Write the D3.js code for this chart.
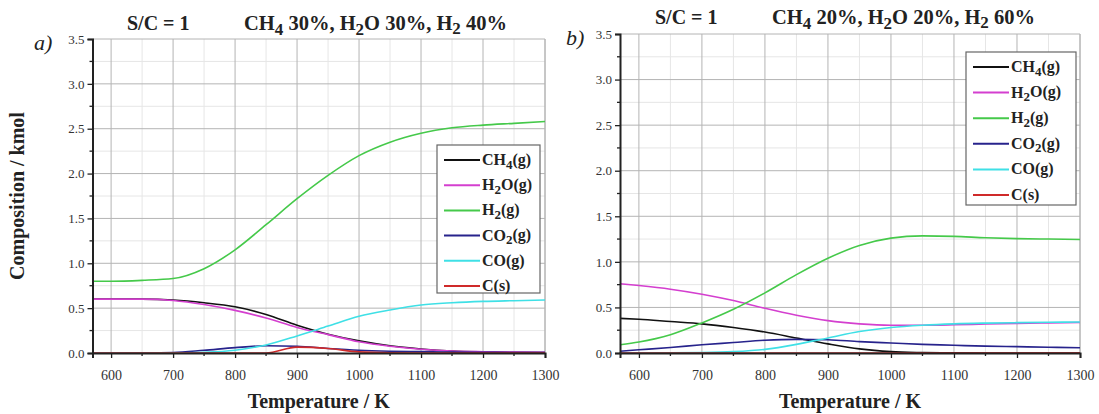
<!DOCTYPE html>
<html>
<head>
<meta charset="utf-8">
<script src="https://cdn.jsdelivr.net/npm/d3@7"></script>
<style>
  body { margin: 0; background: #fff; }
  svg text { font-family: "Liberation Serif", "Times New Roman", serif; }
</style>
</head>
<body>
<svg id="chart" width="1099" height="414"></svg>
<script>
// Temperatures (K) at which the curves were read
const temps = [570, 600, 650, 700, 750, 800, 850, 900, 950, 1000, 1050, 1100, 1150, 1200, 1250, 1300];

const speciesLabels = ["CH_4(g)", "H_2O(g)", "H_2(g)", "CO_2(g)", "CO(g)", "C(s)"];
const speciesColors = ["#111111", "#d43fcf", "#45c94a", "#27238c", "#3fe0e6", "#cf2a2a"];

// a) CH4 30%, H2O 30%, H2 40%
const ch4A = [0.60, 0.60, 0.60, 0.59, 0.56, 0.515, 0.43, 0.31, 0.21, 0.135, 0.08, 0.045, 0.022, 0.012, 0.007, 0.004];
const h2oA = [0.60, 0.60, 0.60, 0.585, 0.54, 0.475, 0.39, 0.285, 0.205, 0.125, 0.075, 0.042, 0.022, 0.014, 0.01, 0.007];
const h2A  = [0.80, 0.80, 0.81, 0.83, 0.94, 1.15, 1.43, 1.72, 1.98, 2.20, 2.35, 2.45, 2.51, 2.54, 2.56, 2.58];
const co2A = [0, 0, 0.001, 0.005, 0.03, 0.06, 0.08, 0.075, 0.05, 0.03, 0.02, 0.015, 0.01, 0.008, 0.006, 0.005];
const coA  = [0, 0, 0, 0.002, 0.008, 0.03, 0.09, 0.19, 0.30, 0.41, 0.48, 0.535, 0.56, 0.575, 0.583, 0.59];
const cA   = [0, 0, 0, 0, 0, 0, 0, 0.065, 0.05, 0.012, 0.002, 0, 0, 0, 0, 0];

// b) CH4 20%, H2O 20%, H2 60%
const ch4B = [0.38, 0.37, 0.345, 0.32, 0.28, 0.23, 0.165, 0.10, 0.045, 0.015, 0.005, 0.001, 0, 0, 0, 0];
const h2oB = [0.76, 0.74, 0.70, 0.645, 0.575, 0.49, 0.415, 0.355, 0.32, 0.305, 0.305, 0.31, 0.318, 0.325, 0.33, 0.335];
const h2B  = [0.09, 0.12, 0.20, 0.33, 0.48, 0.66, 0.86, 1.04, 1.18, 1.26, 1.285, 1.28, 1.265, 1.255, 1.25, 1.245];
const co2B = [0.02, 0.035, 0.06, 0.09, 0.115, 0.14, 0.15, 0.145, 0.125, 0.11, 0.095, 0.085, 0.075, 0.07, 0.063, 0.058];
const coB  = [0, 0, 0.002, 0.005, 0.015, 0.04, 0.095, 0.165, 0.235, 0.28, 0.305, 0.32, 0.328, 0.333, 0.337, 0.34];
const cB   = [0, 0, 0, 0, 0, 0, 0, 0, 0, 0, 0, 0, 0, 0, 0, 0];

const xTicks = [600, 700, 800, 900, 1000, 1100, 1200, 1300];
const xMinor = [650, 750, 850, 950, 1050, 1150, 1250];
const yTicks = [0, 0.5, 1.0, 1.5, 2.0, 2.5, 3.0, 3.5];
const yMinor = [0.25, 0.75, 1.25, 1.75, 2.25, 2.75, 3.25];

const svg = d3.select("#chart");

// write "CH_4(g)" style strings with lowered subscripts
function richText(sel, str, subSize) {
    const parts = str.split(/(_\d)/).filter(s => s.length);
    let lowered = false;
    parts.forEach(p => {
        if (p[0] === "_") {
            sel.append("tspan").attr("font-size", subSize).attr("dy", "0.28em").text(p[1]);
            lowered = true;
        } else {
            const t = sel.append("tspan").text(p);
            if (lowered) t.attr("dy", "-0.24em");
            lowered = false;
        }
    });
}

function drawPanel(p) {
    const x = d3.scaleLinear().domain([570, 1300]).range([p.left, p.right]);
    const y = d3.scaleLinear().domain([0, 3.5]).range([p.bottom, p.top]);
    const g = svg.append("g");

    // grid
    g.append("g").selectAll("line").data(xMinor).join("line")
        .attr("x1", d => x(d)).attr("x2", d => x(d)).attr("y1", p.top).attr("y2", p.bottom)
        .attr("stroke", "#e6e6e6");
    g.append("g").selectAll("line").data(yMinor).join("line")
        .attr("y1", d => y(d)).attr("y2", d => y(d)).attr("x1", p.left).attr("x2", p.right)
        .attr("stroke", "#e6e6e6");
    g.append("g").selectAll("line").data(xTicks).join("line")
        .attr("x1", d => x(d)).attr("x2", d => x(d)).attr("y1", p.top).attr("y2", p.bottom)
        .attr("stroke", "#b4b4b4");
    g.append("g").selectAll("line").data(yTicks.slice(1)).join("line")
        .attr("y1", d => y(d)).attr("y2", d => y(d)).attr("x1", p.left).attr("x2", p.right)
        .attr("stroke", "#b4b4b4");
    g.append("line").attr("x1", p.right).attr("x2", p.right).attr("y1", p.top).attr("y2", p.bottom)
        .attr("stroke", "#b4b4b4");

    // curves
    const line = d3.line().curve(d3.curveMonotoneX)
        .x((d, i) => x(temps[i])).y(d => y(d));
    p.series.forEach((s, i) => {
        g.append("path").attr("d", line(s)).attr("fill", "none")
            .attr("stroke", speciesColors[i]).attr("stroke-width", 1.6);
    });

    // axes
    const xAxis = d3.axisBottom(x).tickValues(xTicks).tickSize(5).tickPadding(12).tickFormat(d3.format("d"));
    const xa = g.append("g").attr("transform", `translate(0,${p.bottom})`).call(xAxis);
    xa.selectAll("text").attr("font-size", 14).attr("fill", "#333")
        .attr("font-family", "'Liberation Serif', serif");
    const yAxis = d3.axisLeft(y).tickValues(yTicks).tickSize(5).tickPadding(3).tickFormat(d3.format(".1f"));
    const ya = g.append("g").attr("transform", `translate(${p.left},0)`).call(yAxis);
    ya.selectAll("text").attr("font-size", 13).attr("fill", "#333")
        .attr("font-family", "'Liberation Serif', serif");
    [xa, ya].forEach(a => {
        a.select(".domain").attr("stroke", "#222").attr("stroke-width", 2);
        a.selectAll(".tick line").attr("stroke", "#222").attr("stroke-width", 1.3);
    });
    g.append("g").selectAll("line").data(xMinor).join("line")
        .attr("x1", d => x(d)).attr("x2", d => x(d)).attr("y1", p.bottom).attr("y2", p.bottom + 3)
        .attr("stroke", "#222").attr("stroke-width", 1.3);
    g.append("g").selectAll("line").data(yMinor).join("line")
        .attr("y1", d => y(d)).attr("y2", d => y(d)).attr("x1", p.left - 3).attr("x2", p.left)
        .attr("stroke", "#222").attr("stroke-width", 1.3);

    // titles
    g.append("text").attr("x", p.scX).attr("y", p.titleY).attr("font-size", 20)
        .attr("font-weight", "bold").attr("fill", "#222").text("S/C = 1");
    richText(g.append("text").attr("x", p.titleX).attr("y", p.titleY).attr("font-size", 20.5)
        .attr("font-weight", "bold").attr("fill", "#222"), p.title, 17);
    g.append("text").attr("x", p.tagX).attr("y", p.tagY).attr("font-size", 22)
        .attr("font-style", "italic").attr("fill", "#222").text(p.tag);
    g.append("text").attr("x", (p.left + p.right) / 2).attr("y", 408).attr("text-anchor", "middle")
        .attr("font-size", 20).attr("font-weight", "bold").attr("fill", "#222").text("Temperature / K");

    // legend
    const L = p.legend;
    g.append("rect").attr("x", L.x).attr("y", L.y).attr("width", L.w).attr("height", L.h)
        .attr("fill", "#fff").attr("stroke", "#666").attr("stroke-width", 1.2);
    speciesLabels.forEach((lab, i) => {
        const cy = L.y + 15 + i * L.step;
        g.append("line").attr("x1", L.x + 7).attr("x2", L.x + 43).attr("y1", cy).attr("y2", cy)
            .attr("stroke", speciesColors[i]).attr("stroke-width", 2);
        richText(g.append("text").attr("x", L.x + 45).attr("y", cy + 5).attr("font-size", 16)
            .attr("font-weight", "bold").attr("fill", "#222"), lab, 13);
    });
}

drawPanel({
    left: 92.5, right: 545, top: 39, bottom: 353,
    series: [ch4A, h2oA, h2A, co2A, coA, cA],
    scX: 127, titleX: 244, titleY: 30, title: "CH_4 30%, H_2O 30%, H_2 40%",
    tag: "a)", tagX: 34, tagY: 50,
    legend: { x: 437, y: 145, w: 103, h: 148, step: 25.2 }
});
drawPanel({
    left: 620, right: 1080, top: 34, bottom: 353,
    series: [ch4B, h2oB, h2B, co2B, coB, cB],
    scX: 655, titleX: 772, titleY: 24, title: "CH_4 20%, H_2O 20%, H_2 60%",
    tag: "b)", tagX: 566, tagY: 45,
    legend: { x: 966, y: 52, w: 110, h: 153, step: 25.6 }
});

// y axis title (left panel only)
svg.append("text").attr("transform", "translate(24,196) rotate(-90)").attr("text-anchor", "middle")
    .attr("font-size", 20).attr("font-weight", "bold").attr("fill", "#222").text("Composition / kmol");
</script>
</body>
</html>
